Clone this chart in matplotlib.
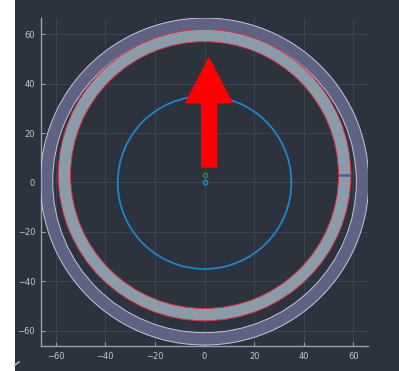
import matplotlib
matplotlib.use("Agg")
import matplotlib.pyplot as plt
from matplotlib.patches import Wedge, Circle, FancyArrow, Rectangle
from matplotlib.lines import Line2D

# Track geometry (metres)
outer_center = (0.0, 0.4)
outer_r_in, outer_r_out = 61.2, 66.2
inner_center = (0.0, 3.0)
inner_r_in, inner_r_out = 54.0, 59.0
boundary_r = 35.0
boundary_center = (0.0, 0.0)
start_line_x = [54.0, 59.0]
start_line_y = [3.0, 3.0]
vehicle_pos = (0.0, 3.0)
origin_pos = (0.0, 0.0)
heading_tail = (1.8, 6.0)
heading_tip = (1.8, 51.0)
ticks = [-60, -40, -20, 0, 20, 40, 60]

BG = "#2c333d"
fig = plt.figure(figsize=(3.99, 3.71), dpi=100, facecolor="white")
fig.add_artist(Rectangle((15 / 399, 0), 1 - 15 / 399, 1, transform=fig.transFigure,
                         facecolor=BG, edgecolor="none", zorder=0))
fig.add_artist(Line2D([15 / 399, 19 / 399], [1 - 365 / 371, 1 - 362 / 371],
                      transform=fig.transFigure, color="#9fb0e0", lw=1.2))

ax = fig.add_axes([40.7 / 399, 1 - 346 / 371, 327.3 / 399, 328 / 371])
ax.set_facecolor(BG)
ax.set_xlim(-66.05, 65.9)
ax.set_ylim(-66.2, 66.6)

# outer lane
ax.add_patch(Wedge(outer_center, outer_r_out, 0, 360, width=outer_r_out - outer_r_in,
                   facecolor="#5f6283", edgecolor="none", zorder=2))
for r in (outer_r_in, outer_r_out):
    ax.add_patch(Circle(outer_center, r, fill=False, edgecolor="#c4c7d6", lw=0.7, zorder=3))

# inner lane
ax.add_patch(Wedge(inner_center, inner_r_out, 0, 360, width=inner_r_out - inner_r_in,
                   facecolor="#8a9ba9", edgecolor="none", zorder=4))
for r in (inner_r_in, inner_r_out):
    ax.add_patch(Circle(inner_center, r, fill=False, edgecolor="#e0283c", lw=0.7, zorder=5))

ax.plot(start_line_x, start_line_y, color="#575a86", lw=1.8, solid_capstyle="butt", zorder=6)

# boundary circle
ax.add_patch(Circle(boundary_center, boundary_r, fill=False, edgecolor="#1a88cc", lw=1.3, zorder=6))

# heading arrow
dx = heading_tip[0] - heading_tail[0]
dy = heading_tip[1] - heading_tail[1]
ax.add_patch(FancyArrow(heading_tail[0], heading_tail[1], dx, dy, width=6.5,
                        head_width=19.5, head_length=19.0, length_includes_head=True,
                        facecolor="#ff0000", edgecolor="none", zorder=7))

ax.plot(*vehicle_pos, marker="o", ms=3.2, mfc="none", mec="#2e8b3c", mew=1.0, zorder=8)
ax.plot(*origin_pos, marker="o", ms=3.2, mfc="none", mec="#1a88cc", mew=1.0, zorder=8)

ax.set_xticks(ticks)
ax.set_yticks(ticks)
ax.grid(True, color="#3e4552", lw=0.7, zorder=1)
ax.set_axisbelow(True)
for s in ("top", "right"):
    ax.spines[s].set_visible(False)
for s in ("left", "bottom"):
    ax.spines[s].set_color("#9aa0a8")
    ax.spines[s].set_linewidth(1.0)
ax.tick_params(direction="in", length=3, width=0.8, color="#9aa0a8",
               labelcolor="#c4c7cc", labelsize=6, pad=4)

fig.savefig("out.png", dpi=100, facecolor=fig.get_facecolor())
